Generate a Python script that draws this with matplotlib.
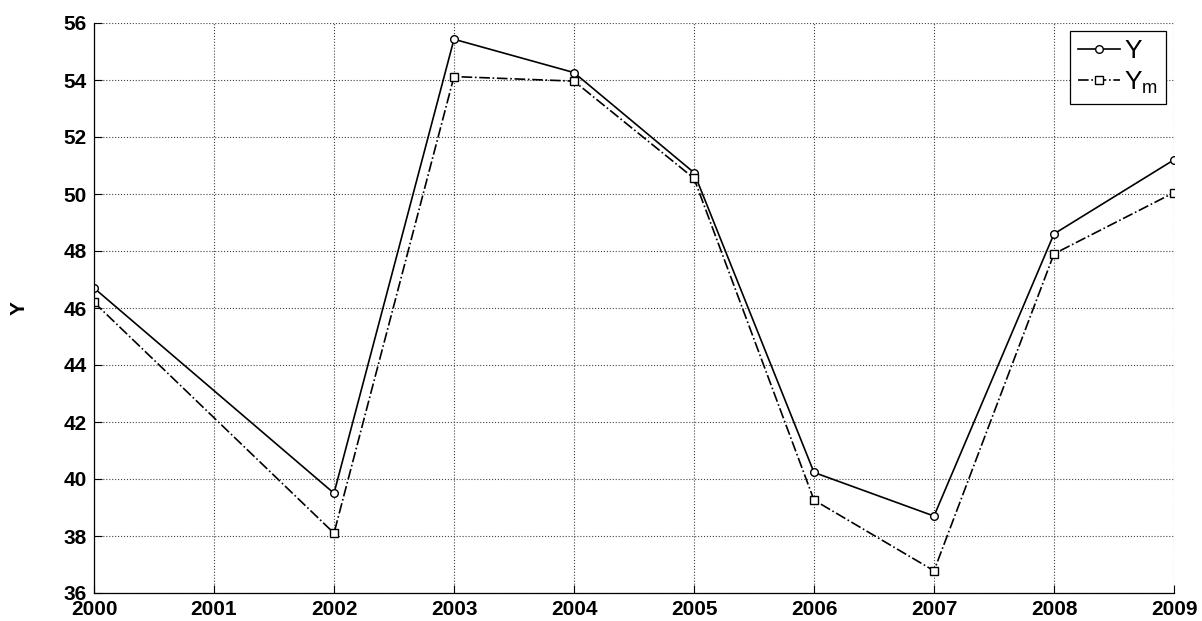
import matplotlib
matplotlib.use("Agg")
import matplotlib.pyplot as plt

years = [2000, 2002, 2003, 2004, 2005, 2006, 2007, 2008, 2009]
y_vals = [46.7, 39.5, 55.43, 54.26, 50.75, 40.23, 38.7, 48.6, 51.2]
ym_vals = [46.2, 38.1, 54.12, 53.96, 50.55, 39.26, 36.78, 47.9, 50.05]
xticks = list(range(2000, 2010))
yticks = list(range(36, 57, 2))

plt.rcParams['font.family'] = ['Liberation Sans', 'DejaVu Sans']
plt.rcParams['mathtext.fontset'] = 'custom'
plt.rcParams['mathtext.rm'] = 'Liberation Sans'

fig = plt.figure(figsize=(12.02, 6.21), dpi=100, facecolor='white')
ax = fig.add_axes([94 / 1202, 28 / 621, 1080 / 1202, 570 / 621])

ax.plot(years, y_vals, color='black', linestyle='-', linewidth=1.2,
        marker='o', markersize=5.5, markerfacecolor='white', markeredgecolor='black',
        markeredgewidth=1.0, label='Y')
ax.plot(years, ym_vals, color='black', linestyle='-.', linewidth=1.2,
        marker='s', markersize=5.5, markerfacecolor='white', markeredgecolor='black',
        markeredgewidth=1.0, label=r'Y$_\mathregular{m}$')

ax.set_xlim(2000, 2009)
ax.set_ylim(36, 56)
ax.set_xticks(xticks)
ax.set_yticks(yticks)
ax.tick_params(direction='in', length=6, width=0.8, labelsize=15)
ax.tick_params(axis='y', pad=5)
ax.tick_params(axis='x', pad=5)
for lbl in ax.get_xticklabels() + ax.get_yticklabels():
    lbl.set_fontweight('bold')
ax.grid(True, linestyle=':', color='#444444', linewidth=0.8)
ax.spines['top'].set_visible(False)
ax.spines['right'].set_visible(False)
for sp in ('left', 'bottom'):
    ax.spines[sp].set_linewidth(0.9)

ax.set_ylabel('Y', fontsize=15, fontweight='bold', labelpad=25)

leg = ax.legend(loc='upper right', fancybox=False, edgecolor='black',
                framealpha=1, fontsize=19, handlelength=1.6, handletextpad=0.15,
                borderaxespad=0.3, borderpad=0.3, labelspacing=0.25)
leg.get_frame().set_linewidth(0.9)

fig.savefig('out.png', dpi=100)
